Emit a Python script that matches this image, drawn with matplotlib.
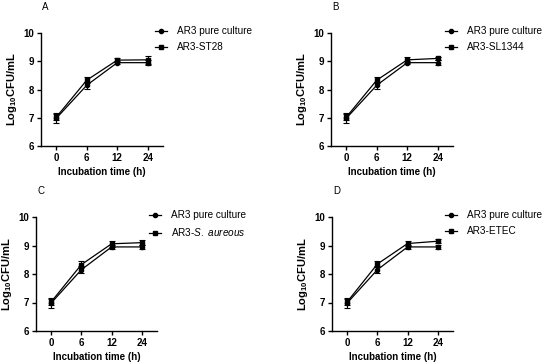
import matplotlib.pyplot as plt
from matplotlib.lines import Line2D
import numpy as np

plt.rcParams['font.family'] = ['Liberation Sans', 'DejaVu Sans']
plt.rcParams['mathtext.fontset'] = 'custom'
plt.rcParams['mathtext.rm'] = 'Liberation Sans'
plt.rcParams['mathtext.it'] = 'Liberation Sans:italic'
plt.rcParams['mathtext.bf'] = 'Liberation Sans:bold'

# Data
times = ['0', '6', '12', '24']
pure = [6.98, 8.15, 8.95, 8.95]
pure_err = [0.18, 0.12, 0.06, 0.08]

co_labels = ['AR3-ST28', 'AR3-SL1344', 'AR3-$\\mathit{S.\\ aureous}$', 'AR3-ETEC']
co_values = [
    [7.02, 8.33, 9.04, 9.05],
    [7.02, 8.33, 9.05, 9.10],
    [7.02, 8.33, 9.06, 9.10],
    [7.02, 8.35, 9.07, 9.15],
]
co_err = [
    [0.10, 0.10, 0.08, 0.15],
    [0.10, 0.10, 0.10, 0.06],
    [0.10, 0.12, 0.10, 0.08],
    [0.10, 0.12, 0.10, 0.07],
]
panels = ['A', 'B', 'C', 'D']

W, H = 550, 363
# axes boxes in pixels: left, right, top, bottom
boxes = [(41, 163, 33, 146), (331, 453, 33, 146),
         (36, 157, 217, 331), (332, 453, 217, 331)]
letter_y = [7, 7, 191, 191]

fig = plt.figure(figsize=(5.5, 3.63), dpi=100)
x = np.arange(len(times))

for i, (l, r, t, b) in enumerate(boxes):
    ax = fig.add_axes([l / W, 1 - b / H, (r - l) / W, (b - t) / H])
    ax.errorbar(x, pure, yerr=pure_err, color='black', marker='o', ms=3,
                lw=0.9, capsize=2, elinewidth=0.8, capthick=0.8)
    ax.errorbar(x, co_values[i], yerr=co_err[i], color='black', marker='s', ms=3,
                lw=0.9, capsize=2, elinewidth=0.8, capthick=0.8)
    ax.set_xlim(-0.5, 3.5)
    ax.set_ylim(6, 10)
    ax.set_xticks(x)
    ax.set_xticklabels(times)
    ax.set_yticks([6, 7, 8, 9, 10])
    for s in ['top', 'right']:
        ax.spines[s].set_visible(False)
    for s in ['left', 'bottom']:
        ax.spines[s].set_linewidth(1.0)
    ax.tick_params(length=3, width=1.0, labelsize=7, pad=2)
    for lab in ax.get_xticklabels() + ax.get_yticklabels():
        lab.set_fontweight('bold')
    ax.set_xlabel('Incubation time (h)', fontsize=7, fontweight='bold', labelpad=3)
    ax.set_ylabel('Log$_{\\mathbf{10}}$CFU/mL', fontsize=8, fontweight='bold', labelpad=3)
    handles = [Line2D([], [], color='black', marker='o', ms=3, lw=0.9),
               Line2D([], [], color='black', marker='s', ms=3, lw=0.9)]
    ax.legend(handles, ['AR3 pure culture', co_labels[i]], loc='upper left',
              bbox_to_anchor=(0.86, 1.14), frameon=False, fontsize=7.2,
              handlelength=1.2, handletextpad=1.0, labelspacing=0.6)
    fig.text((l + 1) / W, 1 - letter_y[i] / H, panels[i], fontsize=7, va='center')

fig.savefig('out.png', dpi=100)
